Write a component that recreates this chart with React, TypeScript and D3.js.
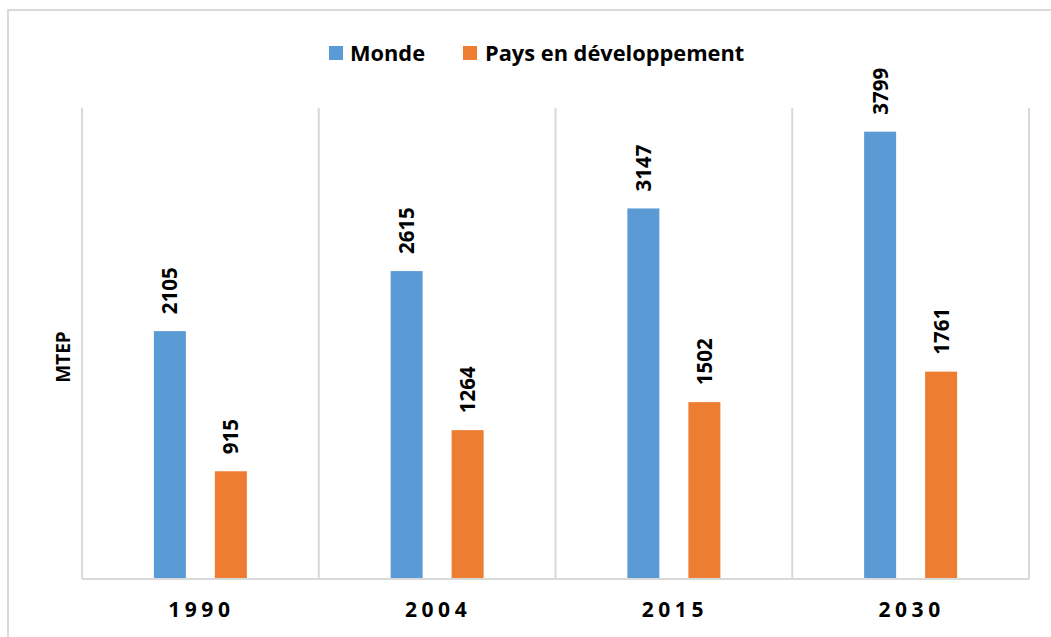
import React from "react";
import * as d3 from "d3";

const years = ["1990", "2004", "2015", "2030"];
const monde = [2105, 2615, 3147, 3799];
const paysDev = [915, 1264, 1502, 1761];
const seriesNames = ["Monde", "Pays en développement"];
const colors = ["#5B9BD5", "#ED7D31"];

const W = 1051;
const H = 637;
const font = "'Open Sans', 'Liberation Sans', sans-serif";

export default function App() {
  const margin = { top: 108, right: 22, bottom: 58, left: 82 };
  const plotW = 1029 - margin.left;
  const plotH = 579 - margin.top;

  const x = d3.scaleBand().domain(years).range([0, plotW]);
  const y = d3.scaleLinear().domain([0, 4000]).range([plotH, 0]);

  const barW = 32;
  const gap = 29;
  const series = [monde, paysDev];

  return (
    <div style={{ position: "fixed", left: 0, top: 0 }}>
      <svg width={W} height={H} style={{ display: "block", background: "#fff" }}>
        {/* outer frame, open on right and bottom */}
        <rect x={8} y={10} width={W + 20} height={H + 20} fill="#fff" stroke="#D9D9D9" strokeWidth={2} />

        {/* legend */}
        <g fontFamily={font} fontWeight="bold" fontSize={21.8} fill="#000">
          <rect x={329} y={46} width={14} height={14} fill={colors[0]} />
          <text x={350} y={61}>{seriesNames[0]}</text>
          <rect x={463} y={46} width={14} height={14} fill={colors[1]} />
          <text x={485} y={61}>{seriesNames[1]}</text>
        </g>

        {/* y axis title */}
        <text
          transform={`translate(70,${357}) rotate(-90)`}
          textAnchor="middle"
          fontFamily={font}
          fontWeight="bold"
          fontSize={19}
        >
          MTEP
        </text>

        <g transform={`translate(${margin.left},${margin.top})`}>
          {/* vertical separators */}
          {years.map((yr) => (
            <line key={yr} x1={x(yr)!} x2={x(yr)!} y1={0} y2={plotH} stroke="#D9D9D9" strokeWidth={2} />
          ))}
          <line x1={plotW} x2={plotW} y1={0} y2={plotH} stroke="#D9D9D9" strokeWidth={2} />

          {/* bars */}
          {years.map((yr, i) => {
            const cx = x(yr)! + x.bandwidth() / 2;
            const start = cx - (barW * 2 + gap) / 2;
            return (
              <g key={yr}>
                {series.map((vals, s) => {
                  const bx = start + s * (barW + gap);
                  const v = vals[i];
                  return (
                    <g key={s}>
                      <rect x={bx} y={y(v)} width={barW} height={plotH - y(v)} fill={colors[s]} />
                      <text
                        transform={`translate(${bx + barW / 2 + 7.5},${y(v) - 17}) rotate(-90)`}
                        fontFamily={font}
                        fontWeight="bold"
                        fontSize={20.5}
                        fill="#000"
                      >
                        {v}
                      </text>
                    </g>
                  );
                })}
                <text
                  x={cx + 1}
                  y={plotH + 38}
                  textAnchor="middle"
                  fontFamily={font}
                  fontWeight="bold"
                  fontSize={21}
                  letterSpacing={4.5}
                  fill="#000"
                >
                  {yr}
                </text>
              </g>
            );
          })}

          {/* baseline */}
          <line x1={0} x2={plotW} y1={plotH} y2={plotH} stroke="#D9D9D9" strokeWidth={2} />
        </g>
      </svg>
    </div>
  );
}
